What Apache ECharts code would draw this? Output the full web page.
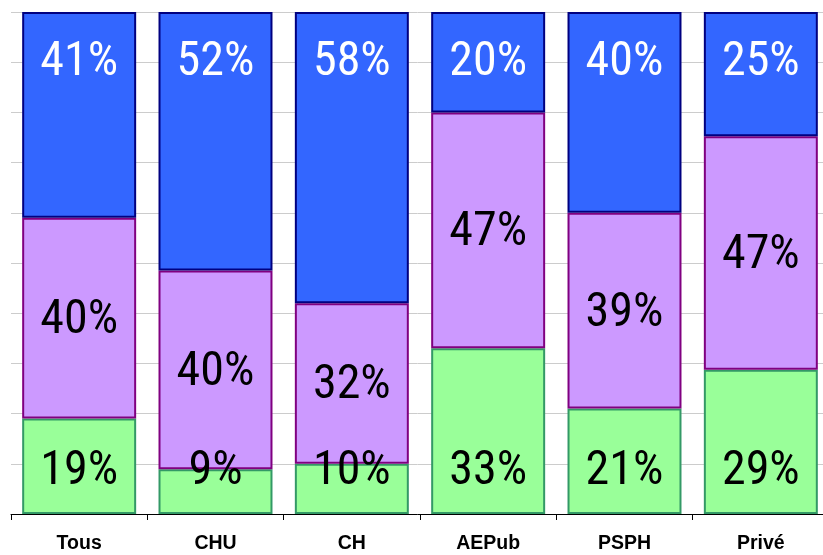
<!DOCTYPE html>
<html>
<head>
<meta charset="utf-8">
<script src="https://cdn.jsdelivr.net/npm/echarts@6/dist/echarts.min.js"></script>
<style>
html,body{margin:0;padding:0;background:#fff;}
#chart{width:823px;height:555px;}
</style>
</head>
<body>
<div id="chart"></div>
<script>
const categories = ['Tous', 'CHU', 'CH', 'AEPub', 'PSPH', 'Privé'];
const greenVals = [19, 9, 10, 33, 21, 29];
const purpleVals = [40, 40, 32, 47, 39, 47];
const blueVals = [41, 52, 58, 20, 40, 25];

const totals = categories.map((c, i) => greenVals[i] + purpleVals[i] + blueVals[i]);
const share = (arr) => arr.map((v, i) => ({ value: v / totals[i] * 100, raw: v }));

const labelFont = "'Roboto Condensed', Roboto, sans-serif";
const fmt = (p) => p.data.raw + '%';

const chart = echarts.init(document.getElementById('chart'));
chart.setOption({
  animation: false,
  backgroundColor: '#ffffff',
  grid: { left: 11, width: 818, top: 12, height: 502, containLabel: false, outerBoundsMode: 'none' },
  xAxis: {
    type: 'category',
    data: categories,
    axisLine: { show: true, lineStyle: { color: '#000000', width: 1 } },
    axisTick: { show: true, length: 6, lineStyle: { color: '#000000' } },
    axisLabel: { color: '#000', fontFamily: "'Liberation Sans', Arial, sans-serif", fontWeight: 'bold', fontSize: 19.5, margin: 20 }
  },
  yAxis: {
    type: 'value',
    min: 0, max: 100, interval: 10,
    axisLine: { show: false },
    axisTick: { show: false },
    axisLabel: { show: false },
    splitLine: { show: true, lineStyle: { color: '#cccccc', width: 1 } }
  },
  series: [
    {
      name: 'green', type: 'bar', stack: 'all', barCategoryGap: '16.4%',
      data: share(greenVals),
      itemStyle: { color: '#99FF99', borderColor: '#339966', borderWidth: 2 },
      label: { show: true, position: 'insideBottom', distance: 21, offset: [0, 3], formatter: fmt, color: '#000', fontFamily: labelFont, fontSize: 48 }
    },
    {
      name: 'purple', type: 'bar', stack: 'all',
      data: share(purpleVals),
      itemStyle: { color: '#CC99FF', borderColor: '#800080', borderWidth: 2 },
      label: { show: true, position: 'inside', offset: [0, 3], formatter: fmt, color: '#000', fontFamily: labelFont, fontSize: 48 }
    },
    {
      name: 'blue', type: 'bar', stack: 'all',
      data: share(blueVals),
      itemStyle: { color: '#3366FF', borderColor: '#000080', borderWidth: 2 },
      label: { show: true, position: 'insideTop', distance: 25, offset: [0, 2], formatter: fmt, color: '#fff', fontFamily: labelFont, fontSize: 48 }
    }
  ]
});
</script>
</body>
</html>
